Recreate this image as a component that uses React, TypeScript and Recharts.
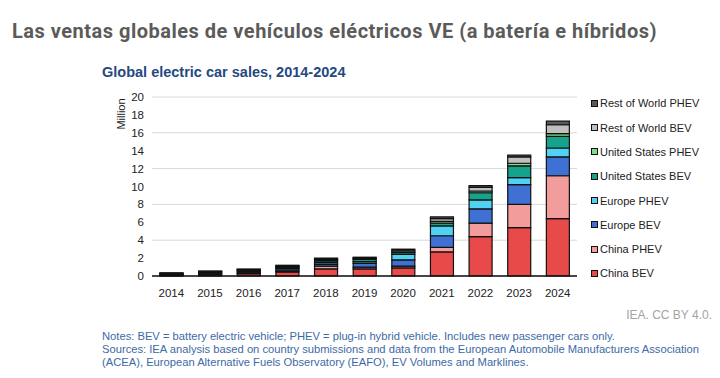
import React from "react";
import { BarChart, Bar, XAxis, YAxis, CartesianGrid } from "recharts";

const YEARS = ["2014", "2015", "2016", "2017", "2018", "2019", "2020", "2021", "2022", "2023", "2024"];

// million cars
const CHINA_BEV = [0.05, 0.15, 0.25, 0.45, 0.8, 0.8, 0.9, 2.7, 4.4, 5.4, 6.4];
const CHINA_PHEV = [0.02, 0.06, 0.08, 0.1, 0.3, 0.2, 0.2, 0.5, 1.5, 2.6, 4.8];
const EUROPE_BEV = [0.06, 0.1, 0.1, 0.15, 0.2, 0.4, 0.7, 1.3, 1.6, 2.2, 2.1];
const EUROPE_PHEV = [0.04, 0.08, 0.1, 0.15, 0.2, 0.2, 0.6, 1.1, 1.0, 0.8, 1.0];
const US_BEV = [0.07, 0.07, 0.08, 0.1, 0.2, 0.25, 0.2, 0.3, 0.8, 1.3, 1.3];
const US_PHEV = [0.05, 0.04, 0.07, 0.1, 0.1, 0.08, 0.1, 0.2, 0.2, 0.3, 0.3];
const ROW_BEV = [0.03, 0.02, 0.05, 0.1, 0.1, 0.1, 0.2, 0.3, 0.4, 0.7, 1.0];
const ROW_PHEV = [0.03, 0.03, 0.05, 0.05, 0.1, 0.07, 0.1, 0.2, 0.2, 0.2, 0.4];

const Y_TICKS = [0, 2, 4, 6, 8, 10, 12, 14, 16, 18, 20];

const SERIES = [
  { key: "cnBev", name: "China BEV", color: "#e84a4a", values: CHINA_BEV },
  { key: "cnPhev", name: "China PHEV", color: "#f29c9b", values: CHINA_PHEV },
  { key: "euBev", name: "Europe BEV", color: "#3f70d4", values: EUROPE_BEV },
  { key: "euPhev", name: "Europe PHEV", color: "#52d2f3", values: EUROPE_PHEV },
  { key: "usBev", name: "United States BEV", color: "#16a38c", values: US_BEV },
  { key: "usPhev", name: "United States PHEV", color: "#80dc86", values: US_PHEV },
  { key: "rowBev", name: "Rest of World BEV", color: "#c0c0c0", values: ROW_BEV },
  { key: "rowPhev", name: "Rest of World PHEV", color: "#5a5a5a", values: ROW_PHEV },
];

const data = YEARS.map((year, i) => {
  const row: Record<string, string | number> = { year };
  SERIES.forEach((s) => {
    row[s.key] = s.values[i];
  });
  return row;
});

const FONT = "'Liberation Sans', Arial, sans-serif";

export default function App() {
  return (
    <div
      style={{
        position: "absolute",
        left: 0,
        top: 0,
        width: 720,
        height: 378,
        background: "#fff",
        overflow: "hidden",
        fontFamily: FONT,
      }}
    >
      <div
        style={{
          position: "absolute",
          left: 12,
          top: 19,
          fontFamily: "Roboto, sans-serif",
          fontWeight: 700,
          fontSize: 20,
          letterSpacing: 0.5,
          lineHeight: "24px",
          color: "#5b5b5b",
          whiteSpace: "nowrap",
        }}
      >
        Las ventas globales de vehículos eléctricos VE (a batería e híbridos)
      </div>

      <div
        style={{
          position: "absolute",
          left: 102,
          top: 64,
          fontWeight: 700,
          fontSize: 14.5,
          lineHeight: "16px",
          color: "#23497f",
          whiteSpace: "nowrap",
        }}
      >
        Global electric car sales, 2014-2024
      </div>

      <div style={{ position: "absolute", left: 0, top: 0 }}>
        <BarChart
          width={720}
          height={378}
          data={data}
          margin={{ top: 97, right: 143, bottom: 72, left: 110 }}
          barSize={23}
        >
          <CartesianGrid vertical={false} stroke="#d9d9d9" strokeWidth={1} />
          <XAxis
            dataKey="year"
            height={30}
            tickLine={false}
            axisLine={{ stroke: "#111", strokeWidth: 1.5 }}
            tickMargin={7}
            tick={{ fontSize: 11.5, fill: "#222", fontFamily: FONT }}
            interval={0}
          />
          <YAxis
            width={42}
            domain={[0, 20]}
            ticks={Y_TICKS}
            tickLine={false}
            axisLine={false}
            tick={{ fontSize: 11.5, fill: "#222", fontFamily: FONT }}
            label={({ viewBox }: any) => (
              <text
                x={viewBox.x + 11}
                y={viewBox.y + 17}
                transform={`rotate(-90, ${viewBox.x + 11}, ${viewBox.y + 17})`}
                textAnchor="middle"
                dominantBaseline="central"
                fontSize={11}
                fill="#222"
                fontFamily={FONT}
              >
                Million
              </text>
            )}
          />
          {SERIES.map((s) => (
            <Bar
              key={s.key}
              dataKey={s.key}
              name={s.name}
              stackId="a"
              fill={s.color}
              stroke="#111"
              strokeWidth={1.2}
              isAnimationActive={false}
            />
          ))}
        </BarChart>
      </div>

      <div style={{ position: "absolute", left: 591, top: 91.2 }}>
        {[...SERIES].reverse().map((s) => (
          <div
            key={s.key}
            style={{
              height: 24.3,
              display: "flex",
              alignItems: "center",
              fontSize: 11,
              color: "#222",
              whiteSpace: "nowrap",
            }}
          >
            <span
              style={{
                display: "inline-block",
                width: 5,
                height: 5,
                background: s.color,
                border: "1px solid #111",
                marginRight: 2,
              }}
            />
            {s.name}
          </div>
        ))}
      </div>

      <div
        style={{
          position: "absolute",
          right: 8,
          top: 308,
          fontSize: 12,
          lineHeight: "14px",
          color: "#a3a3a3",
          whiteSpace: "nowrap",
        }}
      >
        IEA. CC BY 4.0.
      </div>

      <div
        style={{
          position: "absolute",
          left: 102,
          top: 330,
          fontSize: 11.2,
          lineHeight: "13.2px",
          color: "#3d6aa6",
          whiteSpace: "nowrap",
        }}
      >
        <div>Notes: BEV = battery electric vehicle; PHEV = plug-in hybrid vehicle. Includes new passenger cars only.</div>
        <div>
          Sources: IEA analysis based on country submissions and data from the European Automobile Manufacturers Association
        </div>
        <div>(ACEA), European Alternative Fuels Observatory (EAFO), EV Volumes and Marklines.</div>
      </div>
    </div>
  );
}
